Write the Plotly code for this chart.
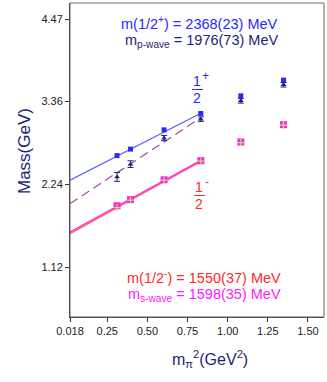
import plotly.graph_objects as go

# m_pi^2 values (GeV^2)
mpi2 = [0.311, 0.395, 0.604, 0.833, 1.082, 1.348]

# masses (GeV)
m_half_plus = [2.629, 2.716, 2.976, 3.197, 3.436, 3.648]
m_pwave = [2.341, 2.513, 2.864, 3.121, 3.368, 3.585]
err_pwave = [0.06, 0.045, 0.035, 0.03, 0.03, 0.03]
m_half_minus = [1.926, 2.026, 2.297, 2.554, 2.805, 3.040]
m_swave = [1.950, 2.034, 2.302, 2.560, 2.812, 3.046]

# linear fits (end points)
fit_x = [0.018, 0.833]
fit_plus = [2.297, 3.200]
fit_pwave = [1.980, 3.140]
fit_minus = [1.575, 2.552]
fit_swave = [1.595, 2.562]

yticks = [1.12, 2.24, 3.36, 4.47]
xticks = [0.018, 0.25, 0.50, 0.75, 1.00, 1.25, 1.50]
xticktext = ["0.018", "0.25", "0.50", "0.75", "1.00", "1.25", "1.50"]

BLUE = "#2a2aff"
NAVY = "#1e1e78"
RED = "#ff2a2a"
MAG = "#ff1aff"
PURPLE = "#9a4aa0"
FONT = "Liberation Sans"

fig = go.Figure()

fig.add_trace(go.Scatter(x=fit_x, y=fit_plus, mode="lines",
                         line=dict(color="#5a5aff", width=1.2)))
fig.add_trace(go.Scatter(x=fit_x, y=fit_pwave, mode="lines",
                         line=dict(color=PURPLE, width=1.2, dash="9px,5px")))
fig.add_trace(go.Scatter(x=fit_x, y=fit_minus, mode="lines",
                         line=dict(color="#ff6a6a", width=1.5)))
fig.add_trace(go.Scatter(x=fit_x, y=fit_swave, mode="lines",
                         line=dict(color="#ff3ad0", width=1.5)))

fig.add_trace(go.Scatter(x=mpi2, y=m_half_plus, mode="markers",
                         marker=dict(symbol="square", size=5, color=BLUE),
                         error_y=dict(type="constant", value=0.012, color=BLUE,
                                      thickness=1, width=2)))
fig.add_trace(go.Scatter(x=mpi2, y=m_pwave, mode="markers",
                         marker=dict(symbol="triangle-up", size=5, color=NAVY),
                         error_y=dict(type="data", array=err_pwave, color=NAVY,
                                      thickness=1, width=3)))
fig.add_trace(go.Scatter(x=mpi2, y=m_swave, mode="markers",
                         marker=dict(symbol="square", size=7, color="#ff22dd"),
                         error_y=dict(type="constant", value=0.015, color=MAG,
                                      thickness=1, width=2)))
fig.add_trace(go.Scatter(x=mpi2, y=m_half_minus, mode="markers",
                         marker=dict(symbol="cross-thin-open", size=5,
                                     line=dict(color=RED, width=1.2))))

ann = []
def txt(s, x, y, color, size=14.5, **kw):
    ann.append(dict(text=s, x=x, y=y, xref="paper", yref="paper",
                    xanchor="center", yanchor="middle",
                    showarrow=False, font=dict(family=FONT, size=size, color=color), **kw))

# paper coordinates: plot area x 70..324, y 3..317 (pixels)
def px(xp):
    return (xp - 70) / 254.0
def py(yp):
    return (317 - yp) / 314.0

txt("m(1/2<sup>+</sup>) = 2368(23) MeV", px(199), py(23), BLUE)
txt("m<sub>p-wave</sub> = 1976(73) MeV", px(201), py(41), NAVY)
txt("1", px(197), py(81), BLUE, size=14)
txt("2", px(197), py(98), BLUE, size=14)
txt("+", px(205), py(76), BLUE, size=12)
txt("1", px(199), py(187), RED, size=14)
txt("2", px(199), py(204), RED, size=14)
txt("-", px(207), py(182), RED, size=12)
txt("m(1/2<sup>-</sup>) = 1550(37) MeV", px(204), py(277), RED)
txt("m<sub>s-wave</sub> = 1598(35) MeV", px(204), py(295), MAG)
txt("Mass(GeV)", px(24), py(151), NAVY, size=17, textangle=-90)
txt("m<sub>π</sub><sup>2</sup>(GeV<sup>2</sup>)", px(210), py(359), NAVY, size=16)

fig.update_layout(
    width=327, height=382,
    margin=dict(l=70, r=3, t=3, b=65),
    plot_bgcolor="white", paper_bgcolor="white",
    showlegend=False,
    annotations=ann,
    font=dict(family=FONT, size=11, color="#222222"),
    shapes=[dict(type="rect", xref="paper", yref="paper", x0=0, x1=1, y0=0, y1=1,
                 line=dict(color="#666666", width=1)),
            # fraction bars
            dict(type="line", xref="paper", yref="paper", x0=px(192), x1=px(203),
                 y0=py(89.5), y1=py(89.5), line=dict(color=BLUE, width=1)),
            dict(type="line", xref="paper", yref="paper", x0=px(194), x1=px(205),
                 y0=py(195.5), y1=py(195.5), line=dict(color=RED, width=1))],
)
fig.update_xaxes(range=[0.018, 1.6], tickvals=xticks, ticktext=xticktext,
                 ticks="outside", ticklen=4, tickcolor="#333333",
                 showline=True, linecolor="#333333", linewidth=1,
                 showgrid=False, zeroline=False)
fig.update_yaxes(range=[0.448, 4.69], tickvals=yticks,
                 ticktext=["1.12", "2.24", "3.36", "4.47"],
                 ticks="outside", ticklen=4, tickcolor="#333333",
                 showline=True, linecolor="#333333", linewidth=1,
                 showgrid=False, zeroline=False)

fig.write_html("out.html", config={"displayModeBar": False},
               post_script="document.body.style.margin='0px';")
